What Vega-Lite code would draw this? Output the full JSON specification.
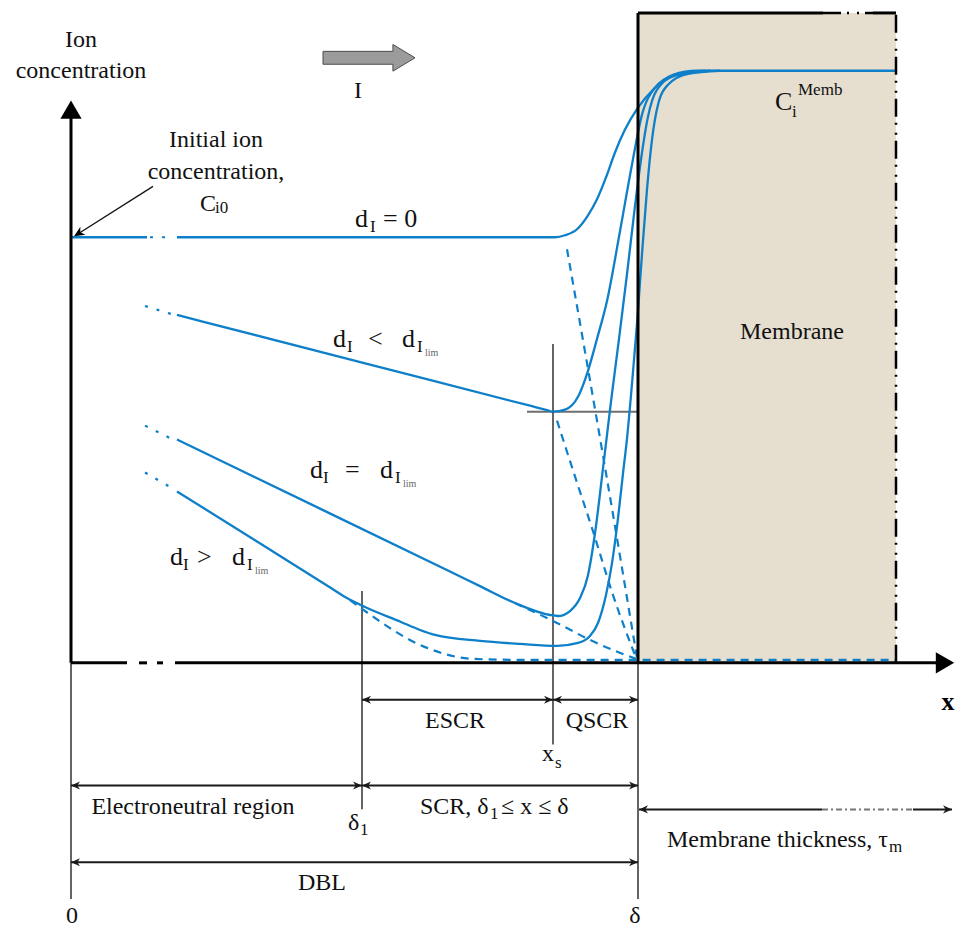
{
  "$schema": "https://vega.github.io/schema/vega-lite/v6.json",
  "width": 955,
  "height": 928,
  "autosize": {"type": "fit", "contains": "padding"},
  "padding": 0,
  "background": "white",
  "config": {"view": {"stroke": null}},
  "datasets": {
    "membrane": [{"X": 567, "X2": 825, "C": 0, "C2": 652}],
    "curves": [
      {"id": "d0a", "X": 0, "C": 427}, {"id": "d0a", "X": 76, "C": 427},
      {"id": "d0b", "X": 106, "C": 427}, {"id": "d0b", "X": 300, "C": 427}, {"id": "d0b", "X": 470, "C": 427}, {"id": "d0b", "X": 484, "C": 427}, {"id": "d0b", "X": 494, "C": 429}, {"id": "d0b", "X": 506, "C": 435}, {"id": "d0b", "X": 517, "C": 449}, {"id": "d0b", "X": 526, "C": 465}, {"id": "d0b", "X": 535, "C": 487}, {"id": "d0b", "X": 544, "C": 512}, {"id": "d0b", "X": 554, "C": 535}, {"id": "d0b", "X": 567, "C": 557}, {"id": "d0b", "X": 582, "C": 575}, {"id": "d0b", "X": 602, "C": 590}, {"id": "d0b", "X": 626, "C": 594}, {"id": "d0b", "X": 700, "C": 594}, {"id": "d0b", "X": 825, "C": 594},
      {"id": "dlt", "X": 106, "C": 349}, {"id": "dlt", "X": 300, "C": 299}, {"id": "dlt", "X": 460, "C": 257.7}, {"id": "dlt", "X": 476, "C": 253.6}, {"id": "dlt", "X": 482, "C": 252}, {"id": "dlt", "X": 494, "C": 254}, {"id": "dlt", "X": 507, "C": 267}, {"id": "dlt", "X": 517, "C": 293}, {"id": "dlt", "X": 526, "C": 325}, {"id": "dlt", "X": 536, "C": 363}, {"id": "dlt", "X": 549, "C": 433}, {"id": "dlt", "X": 561, "C": 500}, {"id": "dlt", "X": 571, "C": 550}, {"id": "dlt", "X": 584, "C": 577}, {"id": "dlt", "X": 604, "C": 590}, {"id": "dlt", "X": 634, "C": 594},
      {"id": "deq", "X": 106, "C": 224}, {"id": "deq", "X": 250, "C": 154.2}, {"id": "deq", "X": 380, "C": 91.1}, {"id": "deq", "X": 409, "C": 77}, {"id": "deq", "X": 444, "C": 60}, {"id": "deq", "X": 479, "C": 48}, {"id": "deq", "X": 487, "C": 47}, {"id": "deq", "X": 499, "C": 52}, {"id": "deq", "X": 509, "C": 65}, {"id": "deq", "X": 517, "C": 88}, {"id": "deq", "X": 524, "C": 130}, {"id": "deq", "X": 532, "C": 195}, {"id": "deq", "X": 540, "C": 262}, {"id": "deq", "X": 548, "C": 325}, {"id": "deq", "X": 556, "C": 390}, {"id": "deq", "X": 563, "C": 450}, {"id": "deq", "X": 570, "C": 505}, {"id": "deq", "X": 577, "C": 548}, {"id": "deq", "X": 586, "C": 575}, {"id": "deq", "X": 604, "C": 589}, {"id": "deq", "X": 639, "C": 594},
      {"id": "dgt", "X": 106, "C": 172}, {"id": "dgt", "X": 200, "C": 112.9}, {"id": "dgt", "X": 260, "C": 75.1}, {"id": "dgt", "X": 276, "C": 65}, {"id": "dgt", "X": 294, "C": 56}, {"id": "dgt", "X": 330, "C": 41}, {"id": "dgt", "X": 349, "C": 33}, {"id": "dgt", "X": 364, "C": 28}, {"id": "dgt", "X": 409, "C": 22}, {"id": "dgt", "X": 449, "C": 19}, {"id": "dgt", "X": 486, "C": 17}, {"id": "dgt", "X": 507, "C": 20}, {"id": "dgt", "X": 519, "C": 27}, {"id": "dgt", "X": 527, "C": 40}, {"id": "dgt", "X": 535, "C": 68}, {"id": "dgt", "X": 541, "C": 100}, {"id": "dgt", "X": 547, "C": 145}, {"id": "dgt", "X": 552, "C": 190}, {"id": "dgt", "X": 556, "C": 225}, {"id": "dgt", "X": 561, "C": 280}, {"id": "dgt", "X": 566, "C": 340}, {"id": "dgt", "X": 571, "C": 410}, {"id": "dgt", "X": 576, "C": 475}, {"id": "dgt", "X": 581, "C": 525}, {"id": "dgt", "X": 587, "C": 560}, {"id": "dgt", "X": 597, "C": 580}, {"id": "dgt", "X": 617, "C": 591}, {"id": "dgt", "X": 649, "C": 594}
    ],
    "dashed": [
      {"id": "d0", "X": 496, "C": 415}, {"id": "d0", "X": 532, "C": 208}, {"id": "d0", "X": 566, "C": 5},
      {"id": "dlt", "X": 486, "C": 243}, {"id": "dlt", "X": 504, "C": 187}, {"id": "dlt", "X": 522, "C": 132}, {"id": "dlt", "X": 542, "C": 68}, {"id": "dlt", "X": 565, "C": 5},
      {"id": "deq", "X": 444, "C": 60}, {"id": "deq", "X": 486, "C": 40}, {"id": "deq", "X": 519, "C": 23}, {"id": "deq", "X": 544, "C": 12}, {"id": "deq", "X": 565, "C": 4},
      {"id": "dgt", "X": 279, "C": 63}, {"id": "dgt", "X": 294, "C": 52}, {"id": "dgt", "X": 356, "C": 15}, {"id": "dgt", "X": 402, "C": 4}, {"id": "dgt", "X": 449, "C": 3}, {"id": "dgt", "X": 825, "C": 3}
    ],
    "dots": [
      {"id": "d0", "X": 79, "C": 427}, {"id": "d0", "X": 99, "C": 427},
      {"id": "dlt", "X": 74, "C": 358}, {"id": "dlt", "X": 100, "C": 350},
      {"id": "deq", "X": 74, "C": 238}, {"id": "deq", "X": 100, "C": 225},
      {"id": "dgt", "X": 74, "C": 191}, {"id": "dgt", "X": 100, "C": 176}
    ],
    "axes": [
      {"X": 0, "X2": 0, "C": 0, "C2": 548},
      {"X": 0, "X2": 56, "C": 0, "C2": 0},
      {"X": 68, "X2": 76, "C": 0, "C2": 0},
      {"X": 86, "X2": 92, "C": 0, "C2": 0},
      {"X": 104, "X2": 866, "C": 0, "C2": 0},
      {"X": 567, "X2": 567, "C": 0, "C2": 652},
      {"X": 567, "X2": 752, "C": 652, "C2": 652},
      {"X": 802, "X2": 825, "C": 652, "C2": 652}
    ],
    "dims": [
      {"X": 291, "X2": 482, "C": -37, "C2": -37},
      {"X": 482, "X2": 567, "C": -37, "C2": -37},
      {"X": 0, "X2": 291, "C": -123, "C2": -123},
      {"X": 291, "X2": 567, "C": -123, "C2": -123},
      {"X": 568, "X2": 751, "C": -147, "C2": -147},
      {"X": 842, "X2": 881, "C": -147, "C2": -147},
      {"X": 0, "X2": 567, "C": -200, "C2": -200}
    ],
    "thin": [
      {"X": 0, "X2": 0, "C": 0, "C2": -237},
      {"X": 291, "X2": 291, "C": 72, "C2": -147},
      {"X": 482, "X2": 482, "C": 320, "C2": -82},
      {"X": 567, "X2": 567, "C": 0, "C2": -237},
      {"X": 82, "X2": 8, "C": 478, "C2": 431}
    ],
    "grayrule": [{"X": 456, "X2": 567, "C": 252, "C2": 252}],
    "dashdot": [
      {"X": 825, "X2": 825, "C": 0, "C2": 652},
      {"X": 752, "X2": 802, "C": 652, "C2": 652}
    ],
    "mtmid": [{"X": 751, "X2": 842, "C": -147, "C2": -147}],
    "headsR": [
      {"X": 482, "C": -37}, {"X": 567, "C": -37}, {"X": 291, "C": -123}, {"X": 567, "C": -123}, {"X": 881, "C": -147}, {"X": 567, "C": -200}
    ],
    "headsL": [
      {"X": 291, "C": -37}, {"X": 482, "C": -37}, {"X": 0, "C": -123}, {"X": 291, "C": -123}, {"X": 568, "C": -147}, {"X": 0, "C": -200}
    ],
    "initHead": [{"X": 3, "C": 428}],
    "yTip": [{"X": 0, "C": 555}],
    "xTip": [{"X": 874, "C": 0}],
    "current": [{"X": 298, "C": 607}],
    "t24c": [
      {"t": "Ion", "X": 10, "C": 618},
      {"t": "concentration", "X": 10, "C": 587},
      {"t": "Initial ion", "X": 145, "C": 518},
      {"t": "concentration,", "X": 145, "C": 485},
      {"t": "I", "X": 287, "C": 567},
      {"t": "Membrane", "X": 721, "C": 325},
      {"t": "ESCR", "X": 384, "C": -65},
      {"t": "QSCR", "X": 526, "C": -65},
      {"t": "Electroneutral region", "X": 122, "C": -152},
      {"t": "DBL", "X": 251, "C": -228},
      {"t": "0", "X": 1, "C": -261},
      {"t": "δ", "X": 564, "C": -261}
    ],
    "t24l": [
      {"t": "C", "X": 129, "C": 453},
      {"t": "Membrane thickness, τ", "X": 596, "C": -185},
      {"t": "x", "X": 471, "C": -98},
      {"t": "δ", "X": 277, "C": -168},
      {"t": "SCR, δ", "X": 349, "C": -152},
      {"t": "≤ x ≤ δ", "X": 430, "C": -152}
    ],
    "t26l": [
      {"t": "d", "X": 284, "C": 437}, {"t": "= 0", "X": 312, "C": 437},
      {"t": "d", "X": 262, "C": 317}, {"t": "<", "X": 297, "C": 317}, {"t": "d", "X": 331, "C": 317},
      {"t": "d", "X": 239, "C": 185}, {"t": "=", "X": 274, "C": 185}, {"t": "d", "X": 309, "C": 185},
      {"t": "d", "X": 99, "C": 98}, {"t": ">", "X": 126, "C": 98}, {"t": "d", "X": 161, "C": 98},
      {"t": "C", "X": 704, "C": 555}
    ],
    "sub": [
      {"t": "I", "X": 299, "C": 432},
      {"t": "I", "X": 276, "C": 312}, {"t": "I", "X": 346, "C": 312},
      {"t": "I", "X": 252, "C": 180}, {"t": "I", "X": 324, "C": 180},
      {"t": "I", "X": 112, "C": 93}, {"t": "I", "X": 176, "C": 93},
      {"t": "i0", "X": 144, "C": 451},
      {"t": "i", "X": 721, "C": 548},
      {"t": "s", "X": 484, "C": -105},
      {"t": "1", "X": 289, "C": -173},
      {"t": "1", "X": 419, "C": -157},
      {"t": "m", "X": 818, "C": -190}
    ],
    "lim": [
      {"t": "lim", "X": 354, "C": 308}, {"t": "lim", "X": 332, "C": 176}, {"t": "lim", "X": 184, "C": 89}
    ],
    "sup": [{"t": "Memb", "X": 727, "C": 570}],
    "bold": [{"t": "x", "X": 877, "C": -47}]
  },
  "encoding": {
    "x": {"field": "X", "type": "quantitative", "scale": {"domain": [-71, 884], "nice": false, "zero": false}, "axis": null},
    "y": {"field": "C", "type": "quantitative", "scale": {"domain": [-263, 665], "nice": false, "zero": false}, "axis": null}
  },
  "layer": [
    {"data": {"name": "membrane"}, "mark": {"type": "rect", "fill": "#E6DFD0", "stroke": null}, "encoding": {"x2": {"field": "X2"}, "y2": {"field": "C2"}}},
    {"data": {"name": "grayrule"}, "mark": {"type": "rule", "color": "#6e6e6e", "strokeWidth": 2}, "encoding": {"x2": {"field": "X2"}, "y2": {"field": "C2"}}},
    {"data": {"name": "thin"}, "mark": {"type": "rule", "color": "#111111", "strokeWidth": 1.3}, "encoding": {"x2": {"field": "X2"}, "y2": {"field": "C2"}}},
    {"data": {"name": "dashed"}, "mark": {"type": "line", "color": "#0e7fc9", "strokeWidth": 2.2, "strokeDash": [8, 6], "interpolate": "monotone"}, "encoding": {"detail": {"field": "id"}}},
    {"data": {"name": "dots"}, "mark": {"type": "line", "color": "#0e7fc9", "strokeWidth": 2.2, "strokeDash": [3, 9]}, "encoding": {"detail": {"field": "id"}}},
    {"data": {"name": "curves"}, "mark": {"type": "line", "color": "#0e7fc9", "strokeWidth": 2.3, "interpolate": "monotone"}, "encoding": {"detail": {"field": "id"}}},
    {"data": {"name": "axes"}, "mark": {"type": "rule", "color": "#000000", "strokeWidth": 3}, "encoding": {"x2": {"field": "X2"}, "y2": {"field": "C2"}}},
    {"data": {"name": "dashdot"}, "mark": {"type": "rule", "color": "#000000", "strokeWidth": 2.5, "strokeDash": [18, 6, 2, 8, 2, 6]}, "encoding": {"x2": {"field": "X2"}, "y2": {"field": "C2"}}},
    {"data": {"name": "dims"}, "mark": {"type": "rule", "color": "#1a1a1a", "strokeWidth": 2}, "encoding": {"x2": {"field": "X2"}, "y2": {"field": "C2"}}},
    {"data": {"name": "mtmid"}, "mark": {"type": "rule", "color": "#777777", "strokeWidth": 2, "strokeDash": [6, 3, 2, 3]}, "encoding": {"x2": {"field": "X2"}, "y2": {"field": "C2"}}},
    {"data": {"name": "headsR"}, "mark": {"type": "point", "shape": "M0,0L-2,-0.9L-1.4,0L-2,0.9Z", "filled": true, "color": "#1a1a1a", "size": 81, "opacity": 1}},
    {"data": {"name": "headsL"}, "mark": {"type": "point", "shape": "M0,0L2,-0.9L1.4,0L2,0.9Z", "filled": true, "color": "#1a1a1a", "size": 81, "opacity": 1}},
    {"data": {"name": "initHead"}, "mark": {"type": "point", "shape": "M0,0L-2,-0.9L-1.4,0L-2,0.9Z", "filled": true, "color": "#000000", "size": 110, "angle": 148, "opacity": 1}},
    {"data": {"name": "yTip"}, "mark": {"type": "point", "shape": "triangle-up", "filled": true, "color": "#000000", "size": 450, "opacity": 1}},
    {"data": {"name": "xTip"}, "mark": {"type": "point", "shape": "triangle-right", "filled": true, "color": "#000000", "size": 450, "opacity": 1}},
    {"data": {"name": "current"}, "mark": {"type": "point", "shape": "M-1,-0.14L0.52,-0.14L0.52,-0.29L1,0L0.52,0.29L0.52,0.14L-1,0.14Z", "filled": true, "fill": "#9b9b9b", "stroke": "#4d4d4d", "strokeWidth": 1, "size": 8464, "opacity": 1}},
    {"data": {"name": "t24c"}, "mark": {"type": "text", "font": "Liberation Serif", "fontSize": 24, "align": "center", "baseline": "alphabetic", "color": "#111111"}, "encoding": {"text": {"field": "t"}}},
    {"data": {"name": "t24l"}, "mark": {"type": "text", "font": "Liberation Serif", "fontSize": 24, "align": "left", "baseline": "alphabetic", "color": "#111111"}, "encoding": {"text": {"field": "t"}}},
    {"data": {"name": "t26l"}, "mark": {"type": "text", "font": "Liberation Serif", "fontSize": 26, "align": "left", "baseline": "alphabetic", "color": "#111111"}, "encoding": {"text": {"field": "t"}}},
    {"data": {"name": "sub"}, "mark": {"type": "text", "font": "Liberation Serif", "fontSize": 17, "align": "left", "baseline": "alphabetic", "color": "#111111"}, "encoding": {"text": {"field": "t"}}},
    {"data": {"name": "lim"}, "mark": {"type": "text", "font": "Liberation Serif", "fontSize": 10, "align": "left", "baseline": "alphabetic", "color": "#666666"}, "encoding": {"text": {"field": "t"}}},
    {"data": {"name": "sup"}, "mark": {"type": "text", "font": "Liberation Serif", "fontSize": 17, "align": "left", "baseline": "alphabetic", "color": "#111111"}, "encoding": {"text": {"field": "t"}}},
    {"data": {"name": "bold"}, "mark": {"type": "text", "font": "Liberation Serif", "fontSize": 26, "fontWeight": "bold", "align": "center", "baseline": "alphabetic", "color": "#000000"}, "encoding": {"text": {"field": "t"}}}
  ]
}
